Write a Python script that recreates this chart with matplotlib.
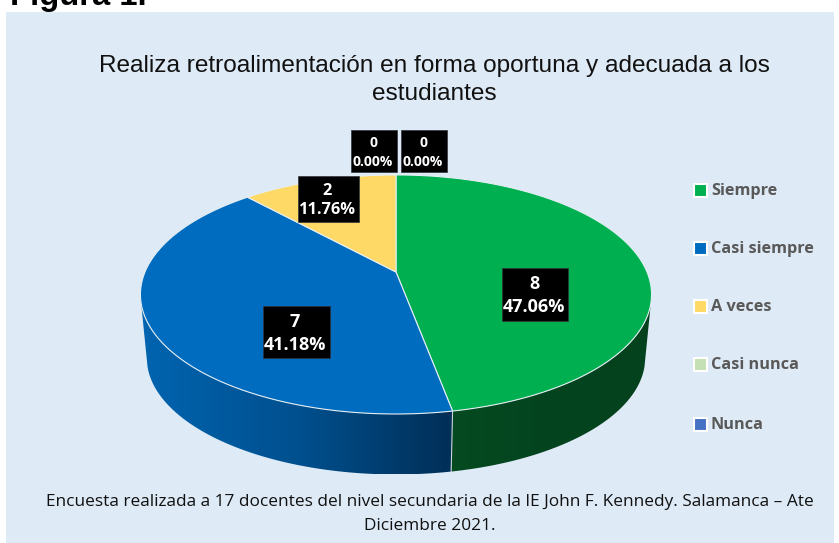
import numpy as np
import matplotlib
matplotlib.use('Agg')
import matplotlib.pyplot as plt
from matplotlib.colors import LinearSegmentedColormap
from matplotlib.patches import Polygon, Rectangle

categories = ['Siempre', 'Casi siempre', 'A veces', 'Casi nunca', 'Nunca']
values = [8, 7, 2, 0, 0]
colors = ['#00B050', '#006CBF', '#FFD966', '#C5E0B4', '#4472C4']

title = 'Realiza retroalimentación en forma oportuna y adecuada a los\nestudiantes'
note = ('Encuesta realizada a 17 docentes del nivel secundaria de la IE John F. Kennedy. '
        'Salamanca – Ate\nDiciembre 2021.')

# centre of each data label box, one per category
label_pos = [(535, 294), (296, 332), (328, 199), (374, 151), (424, 151)]
label_size = [(66, 53), (67, 52), (61, 46), (46, 42), (46, 42)]
label_font = [13.0, 13.0, 11.8, 10.0, 10.0]
label_space = [1.42, 1.42, 1.3, 1.5, 1.5]
legend_y = [190, 248, 306, 364, 424]

# side shading, left to right of the visible part of each slice
side_colors = {0: ['#054a20', '#03441f', '#03421d'], 1: ['#0064b0', '#00508f', '#002f57']}


# perspective view of the pie rim, t is clockwise from the top
def rim(t, y0=272, scale=1.0):
    k = 0.188
    x = np.sin(t)
    y = np.cos(t)
    return np.column_stack([396 + scale * 251 * x / (1 + k * y),
                            y0 - scale * 115.3 * y / (1 + k * y)])


fig = plt.figure(figsize=(8.39, 5.43), dpi=100)
ax = fig.add_axes([0, 0, 1, 1])
ax.set_xlim(0, 839)
ax.set_ylim(543, 0)
ax.axis('off')

ax.add_patch(Rectangle((6, 12), 828, 531, facecolor='#DEEAF6', edgecolor='none'))
ax.text(10, 5, 'Figura 1.', family='Liberation Sans', weight='bold', fontsize=23.6,
        color='black', va='baseline')
ax.text(434, 80, title, family='Liberation Sans', fontsize=17.6, color='#111111',
        ha='center', va='center', linespacing=1.35)
ax.text(430, 514, note, family='Open Sans', fontsize=12.4, color='#111111',
        ha='center', va='center', linespacing=1.6)

angles = np.cumsum([0] + values) / sum(values) * 2 * np.pi

# sides first, only the part that faces the viewer
t_right = np.radians(105)
t_left = np.radians(255)
for i in range(len(values)):
    a = max(angles[i], t_right)
    b = min(angles[i + 1], t_left)
    if b <= a:
        continue
    t = np.linspace(a, b, 150)
    pts = np.vstack([rim(t), rim(t[::-1], 336, 0.975)])
    poly = Polygon(pts, closed=True, facecolor='none', edgecolor='none')
    ax.add_patch(poly)
    cmap = LinearSegmentedColormap.from_list('side', side_colors[i])
    x0, x1 = pts[:, 0].min(), pts[:, 0].max()
    y0, y1 = pts[:, 1].min(), pts[:, 1].max()
    img = ax.imshow(np.linspace(0, 1, 256).reshape(1, -1), cmap=cmap, aspect='auto',
                    extent=(x0, x1, y1, y0), interpolation='bilinear', zorder=1)
    img.set_clip_path(poly)

# seam between the two visible sides
seam = angles[1]
seam_pts = np.vstack([rim(np.array([seam])), rim(np.array([seam]), 336, 0.975)])
ax.plot(seam_pts[:, 0], seam_pts[:, 1], color='#C9D3DA', lw=0.8, zorder=2)
ax.set_xlim(0, 839)
ax.set_ylim(543, 0)

# top faces
for i in range(len(values)):
    if values[i] == 0:
        continue
    t = np.linspace(angles[i], angles[i + 1], 300)
    pts = np.vstack([[396, 272], rim(t)])
    ax.add_patch(Polygon(pts, closed=True, facecolor=colors[i], edgecolor='#E4EEF4',
                         lw=0.8, zorder=3))

# data labels
for i in range(len(values)):
    cx, cy = label_pos[i]
    w, h = label_size[i]
    ax.add_patch(Rectangle((cx - w / 2, cy - h / 2), w, h, facecolor='black',
                           edgecolor='#30363c', lw=0.5, zorder=4))
    ax.text(cx - 1, cy + 1.5, f'{values[i]}\n{values[i] / sum(values):.2%}', color='white',
            family='Open Sans', weight='bold', fontsize=label_font[i], ha='center',
            va='center', linespacing=label_space[i], zorder=5)

# legend
for i in range(len(categories)):
    ax.add_patch(Rectangle((694, legend_y[i] - 6.5), 13, 13, facecolor=colors[i],
                           edgecolor='white', lw=1.5, zorder=3))
    ax.text(711, legend_y[i] + 1, categories[i], family='Open Sans', weight='bold',
            fontsize=11.7, color='#595959', va='center')

fig.savefig('out.png', dpi=100)
